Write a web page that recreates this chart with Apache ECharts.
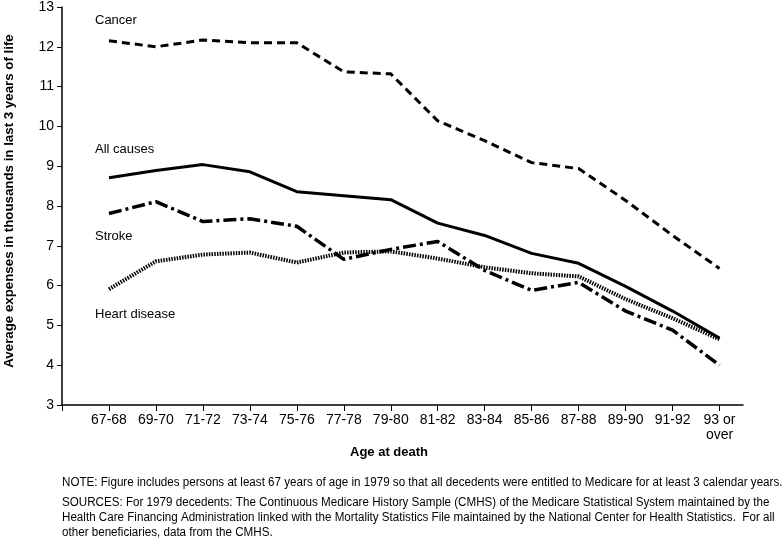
<!DOCTYPE html>
<html><head><meta charset="utf-8">
<script src="https://cdn.jsdelivr.net/npm/echarts@6/dist/echarts.min.js"></script>
<style>html,body{margin:0;padding:0;background:#fff}#c{width:784px;height:539px}</style>
</head><body><div id="c"></div>
<script>
const categories = ["67-68","69-70","71-72","73-74","75-76","77-78","79-80","81-82","83-84","85-86","87-88","89-90","91-92","93 or\nover"];
const cancer = [12.15,12.0,12.17,12.1,12.1,11.37,11.32,10.14,9.64,9.09,8.94,8.14,7.26,6.43];
const allCauses = [8.71,8.89,9.04,8.86,8.36,8.26,8.16,7.57,7.26,6.81,6.56,5.98,5.36,4.68];
const stroke = [7.81,8.11,7.61,7.68,7.49,6.66,6.91,7.11,6.38,5.88,6.08,5.36,4.88,4.0];
const heart = [5.91,6.61,6.78,6.83,6.58,6.83,6.86,6.68,6.46,6.31,6.23,5.66,5.18,4.65];
const yTicks = [3,4,5,6,7,8,9,10,11,12,13];
const seriesNames = ["Cancer","All causes","Stroke","Heart disease"];

const pts = a => a.map((v,i)=>[i,v]);
const font = "'Liberation Sans', Arial, sans-serif";
const chart = echarts.init(document.getElementById('c'), null, {renderer:'canvas'});
function ln(name, data, width, type){
  return {name, type:'line', data:pts(data), symbol:'none', animation:false,
    lineStyle:{color:'#000', width, type}};
}
const noteStyle = {fill:'#000', font:'12.5px '+font};
chart.setOption({
  backgroundColor:'#fff',
  animation:false,
  grid:{left:62, right:41, top:6, bottom:134},
  xAxis:{type:'value', min:-1, max:13.5, interval:1,
    axisLine:{onZero:false, lineStyle:{color:'#000', width:1.5}},
    axisTick:{show:true, length:6, lineStyle:{color:'#000', width:1}},
    splitLine:{show:false},
    axisLabel:{color:'#000', fontSize:14, fontFamily:font, lineHeight:15, margin:8,
      formatter:v=>{const i=Math.round(v); return (i>=0 && i<categories.length)?categories[i]:'';},
      showMinLabel:true, showMaxLabel:false}
  },
  yAxis:{type:'value', min:3, max:13, interval:1,
    axisLine:{show:true, onZero:false, lineStyle:{color:'#000', width:1.5}},
    axisTick:{show:true, length:5, lineStyle:{color:'#000', width:1}},
    splitLine:{show:false},
    axisLabel:{color:'#000', fontSize:14, fontFamily:font, margin:8,
      formatter:v=>yTicks.includes(v)?String(v):''}
  },
  series:[
    ln(seriesNames[0], cancer, 3, [8,5]),
    ln(seriesNames[1], allCauses, 3, 'solid'),
    ln(seriesNames[2], stroke, 3.5, [13,4,3,4]),
    ln(seriesNames[3], heart, 4, [1.5,1.2])
  ],
  graphic:[
    {type:'text', x:9, y:201, rotation:Math.PI/2, style:{text:'Average expenses in thousands in last 3 years of life', fill:'#000', font:'bold 13.3px '+font, align:'center', verticalAlign:'middle'}},
    {type:'text', x:389, y:452, style:{text:'Age at death', fill:'#000', font:'bold 13px '+font, align:'center', verticalAlign:'middle'}},
    {type:'text', left:95, top:14, style:{text:seriesNames[0], fill:'#000', font:'13px '+font}},
    {type:'text', left:95, top:143, style:{text:seriesNames[1], fill:'#000', font:'13px '+font}},
    {type:'text', left:95, top:230, style:{text:seriesNames[2], fill:'#000', font:'13px '+font}},
    {type:'text', left:95, top:308, style:{text:seriesNames[3], fill:'#000', font:'13px '+font}},
    {type:'text', x:62, y:476, scaleX:0.93, style:{text:'NOTE: Figure includes persons at least 67 years of age in 1979 so that all decedents were entitled to Medicare for at least 3 calendar years.', ...noteStyle}},
    {type:'text', x:62, y:496, scaleX:0.93, style:{text:'SOURCES: For 1979 decedents: The Continuous Medicare History Sample (CMHS) of the Medicare Statistical System maintained by the', ...noteStyle}},
    {type:'text', x:62, y:511, scaleX:0.93, style:{text:'Health Care Financing Administration linked with the Mortality Statistics File maintained by the National Center for Health Statistics.  For all', ...noteStyle}},
    {type:'text', x:62, y:526, scaleX:0.93, style:{text:'other beneficiaries, data from the CMHS.', ...noteStyle}}
  ]
});
</script></body></html>
